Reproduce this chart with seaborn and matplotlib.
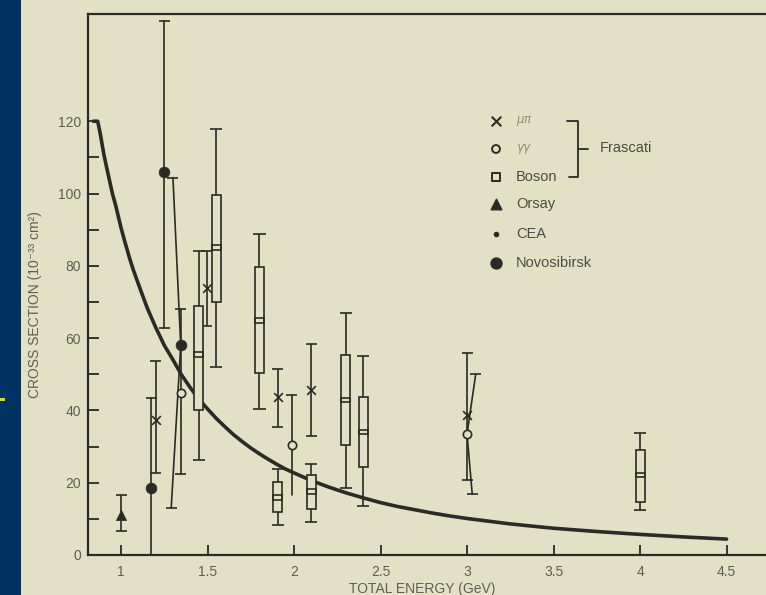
import matplotlib
matplotlib.use("Agg")
import matplotlib.pyplot as plt
from matplotlib.patches import Rectangle
import seaborn as sns
import pandas as pd

# ---------------- data ----------------
curve_E = [0.84, 0.865, 0.88, 0.9, 0.92, 0.95, 0.97, 1.0, 1.02, 1.05, 1.07, 1.1, 1.15,
           1.2, 1.25, 1.3, 1.35, 1.4, 1.45, 1.5, 1.55, 1.6, 1.65, 1.7, 1.75, 1.8, 1.85,
           1.9, 1.95, 2.0, 2.1, 2.2, 2.3, 2.4, 2.5, 2.6, 2.7, 2.8, 2.9, 3.0, 3.25, 3.5,
           3.75, 4.0, 4.25, 4.5]
curve_sigma = [120, 120, 116.5, 111, 106.5, 100, 96.5, 90.5, 87, 82, 79, 75, 68.5,
               63, 58, 54, 49.8, 46.3, 43.1, 40.4, 37.8, 35.5, 33.3, 31.4, 29.6, 28,
               26.5, 25.1, 23.8, 22.7, 20.6, 18.8, 17.2, 15.8, 14.5, 13.4, 12.5, 11.6,
               10.8, 10.1, 8.6, 7.4, 6.5, 5.7, 5.0, 4.4]

# Frascati mu-pi (x)
mupi_E = [1.2, 1.495, 1.905, 2.10, 3.0]
mupi_s = [37.3, 73.8, 43.6, 45.6, 38.7]
mupi_lo = [22.7, 63.4, 35.4, 32.8, 20.7]
mupi_hi = [53.7, 84.0, 51.4, 58.3, 56.0]

# Frascati gamma-gamma (open circles); caps may be offset in energy
gg_E = [1.345, 1.987, 3.0]
gg_s = [44.7, 30.4, 33.5]
gg_lo = [22.4, 16.6, 16.8]
gg_hi = [68.0, 44.3, 50.0]
gg_lo_capE = [1.345, 1.987, 3.03]
gg_hi_capE = [1.345, 1.987, 3.05]
gg_lo_cap = [True, False, True]

# Frascati boson (boxes)
bos_E = [1.45, 1.55, 1.80, 1.905, 2.10, 2.30, 2.40, 4.00]
bos_wlo = [26.3, 52.0, 40.4, 8.4, 9.0, 18.5, 13.6, 12.4]
bos_blo = [40.0, 70.0, 50.3, 11.8, 12.8, 30.4, 24.4, 14.8]
bos_mid = [55.5, 85.0, 64.9, 16.0, 17.5, 42.9, 34.0, 22.1]
bos_bhi = [69.0, 99.6, 79.8, 20.1, 22.0, 55.3, 43.8, 29.0]
bos_whi = [84.0, 117.8, 88.8, 23.8, 25.3, 66.9, 55.0, 33.7]

# Orsay (filled triangle)
ors_E = [1.0]
ors_s = [11.0]
ors_lo = [6.6]
ors_hi = [16.6]

# Novosibirsk (filled circles); caps may be offset in energy
nov_E = [1.175, 1.25, 1.345]
nov_s = [18.5, 106.0, 58.0]
nov_lo = [0.0, 62.9, 13.0]
nov_hi = [43.4, 147.8, 104.4]
nov_lo_capE = [1.175, 1.25, 1.29]
nov_hi_capE = [1.175, 1.25, 1.30]
nov_lo_cap = [False, True, True]

x_ticks = [1, 1.5, 2, 2.5, 3, 3.5, 4, 4.5]
x_ticklabels = ["1", "1.5", "2", "2.5", "3", "3.5", "4", "4.5"]
y_ticks = [0, 20, 40, 60, 80, 100, 120]
y_minor = [10, 30, 50, 70, 90, 110]

legend_labels = ["$\\mu\\pi$", "$\\gamma\\gamma$", "Boson", "Orsay", "CEA", "Novosibirsk"]
group_label = "Frascati"
xlabel = "TOTAL ENERGY (GeV)"
ylabel = "CROSS SECTION (10\u207b\u00b3\u00b3 cm\u00b2)"

# ---------------- style ----------------
sns.set_style("ticks")
plt.rcParams["font.family"] = ["Liberation Sans", "DejaVu Sans"]

INK = "#2b2a24"
BEIGE = "#e3e1c5"
NAVY = "#02325f"
GREY = "#5f5e55"

W, H = 766, 595
fig = plt.figure(figsize=(W / 100, H / 100), dpi=100)
fig.patch.set_facecolor(NAVY)
fig.add_artist(Rectangle((21 / W, 0), 1, 1, transform=fig.transFigure,
                         facecolor=BEIGE, edgecolor="none", zorder=-10))
fig.add_artist(Rectangle((0, 1 - 401 / H), 5 / W, 3 / H, transform=fig.transFigure,
                         facecolor="#e2d24a", edgecolor="none", zorder=-9))

ax_left, ax_right, ax_top, ax_bot = 88, 766, 13.5, 555
ax = fig.add_axes([ax_left / W, 1 - ax_bot / H, (ax_right - ax_left) / W,
                   (ax_bot - ax_top) / H])
ax.set_facecolor(BEIGE)
ax.set_xlim(0.809, 4.728)
ax.set_ylim(0, 149.8)

for side in ["left", "bottom", "top"]:
    ax.spines[side].set_color(INK)
    ax.spines[side].set_linewidth(1.6)
ax.spines["right"].set_visible(False)

ax.set_xticks(x_ticks)
ax.set_xticklabels(x_ticklabels)
ax.set_yticks(y_ticks)
ax.set_yticks(y_minor, minor=True)
ax.tick_params(axis="both", which="both", direction="in", color=INK, width=1.3,
               labelcolor=GREY, labelsize=10)
ax.tick_params(axis="y", which="major", length=8, pad=5)
ax.tick_params(axis="y", which="minor", length=8)
ax.tick_params(axis="x", which="major", length=7, pad=7)
ax.tick_params(top=False, right=False)

LW = 1.2
CAPW = 0.032   # half width of caps (GeV)
BOXW = 0.052   # box width (GeV)

# ---------------- theory curve ----------------
sns.lineplot(x=curve_E, y=curve_sigma, ax=ax, color=INK, lw=2.6,
             estimator=None, sort=False, zorder=3)


def caps(xs, ys, hw=CAPW):
    ax.hlines(ys, [x - hw for x in xs], [x + hw for x in xs], color=INK, lw=LW, zorder=4)


# mu-pi error bars
ax.vlines(mupi_E, mupi_lo, mupi_hi, color=INK, lw=LW, zorder=4)
caps(mupi_E, mupi_lo)
caps(mupi_E, mupi_hi)

# gamma-gamma error bars (possibly slanted to offset caps)
for E, s, lo, hi, cl, ch, hascap in zip(gg_E, gg_s, gg_lo, gg_hi, gg_lo_capE, gg_hi_capE, gg_lo_cap):
    ax.plot([E, cl], [s, lo], color=INK, lw=LW, zorder=4)
    ax.plot([E, ch], [s, hi], color=INK, lw=LW, zorder=4)
    caps([ch], [hi])
    if hascap:
        caps([cl], [lo])

# Novosibirsk error bars
for E, s, lo, hi, cl, ch, hascap in zip(nov_E, nov_s, nov_lo, nov_hi, nov_lo_capE, nov_hi_capE, nov_lo_cap):
    ax.plot([E, cl], [s, lo], color=INK, lw=LW, zorder=4)
    ax.plot([E, ch], [s, hi], color=INK, lw=LW, zorder=4)
    caps([ch], [hi])
    if hascap:
        caps([cl], [lo])

# Orsay error bars
ax.vlines(ors_E, ors_lo, ors_hi, color=INK, lw=LW, zorder=4)
caps(ors_E, ors_lo)
caps(ors_E, ors_hi)

# Boson boxes
ax.vlines(bos_E, bos_wlo, bos_blo, color=INK, lw=LW, zorder=4)
ax.vlines(bos_E, bos_bhi, bos_whi, color=INK, lw=LW, zorder=4)
caps(bos_E, bos_wlo, 0.035)
caps(bos_E, bos_whi, 0.035)
ax.bar(bos_E, [h - l for h, l in zip(bos_bhi, bos_blo)], bottom=bos_blo, width=BOXW,
       facecolor=BEIGE, edgecolor=INK, linewidth=LW, zorder=4)
ax.bar(bos_E, [1.3] * len(bos_E), bottom=[m - 0.65 for m in bos_mid], width=BOXW,
       facecolor="none", edgecolor=INK, linewidth=LW, zorder=5)

# markers
pts = pd.DataFrame({
    "E": mupi_E + gg_E + ors_E + nov_E,
    "sigma": mupi_s + gg_s + ors_s + nov_s,
    "group": ["mupi"] * len(mupi_E) + ["gg"] * len(gg_E) + ["ors"] * len(ors_E) + ["nov"] * len(nov_E),
})
sns.scatterplot(data=pts[pts.group == "mupi"], x="E", y="sigma", marker="x", s=40,
                color=INK, linewidth=1.2, ax=ax, zorder=6, legend=False)
sns.scatterplot(data=pts[pts.group == "gg"], x="E", y="sigma", marker="o", s=36,
                facecolor=BEIGE, edgecolor=INK, linewidth=1.2, ax=ax, zorder=6, legend=False)
sns.scatterplot(data=pts[pts.group == "ors"], x="E", y="sigma", marker="^", s=55,
                color=INK, edgecolor=INK, linewidth=0.5, ax=ax, zorder=6, legend=False)
sns.scatterplot(data=pts[pts.group == "nov"], x="E", y="sigma", marker="o", s=60,
                color=INK, edgecolor=INK, linewidth=0.5, ax=ax, zorder=6, legend=False)
ax.set_xlabel("")
ax.set_ylabel("")


# ---------------- legend (hand drawn) ----------------
def af(px, py):
    return ((px - ax_left) / (ax_right - ax_left), (ax_bot - py) / (ax_bot - ax_top))


rows_py = [120.5, 149, 177, 204, 234, 263]
mk_px, lab_px = 496, 516
mk_styles = [
    dict(marker="x", s=48, c=INK, linewidths=1.5),
    dict(marker="o", s=32, facecolors="none", edgecolors=INK, linewidths=1.4),
    dict(marker="s", s=26, facecolors="none", edgecolors=INK, linewidths=1.4),
    dict(marker="^", s=58, c=INK),
    dict(marker="o", s=9, c=INK),
    dict(marker="o", s=62, c=INK),
]
for lab, py, st in zip(legend_labels, rows_py, mk_styles):
    x, y = af(mk_px, py)
    ax.scatter([x], [y], transform=ax.transAxes, zorder=7, clip_on=False, **st)
    xt, yt = af(lab_px, py)
    if lab.startswith("$"):
        ax.text(xt, yt, lab, transform=ax.transAxes, fontsize=8.5, color="#8b8a7f",
                va="center", ha="left")
    else:
        ax.text(xt, yt, lab, transform=ax.transAxes, fontsize=10.5, color="#4c4b43",
                va="center", ha="left")

br = [af(567, 120.5), af(578, 120.5), af(578, 177), af(569, 177)]
ax.plot([p[0] for p in br], [p[1] for p in br], transform=ax.transAxes, color=INK, lw=1.3)
mid = [af(578, 149), af(588, 149)]
ax.plot([p[0] for p in mid], [p[1] for p in mid], transform=ax.transAxes, color=INK, lw=1.3)
xt, yt = af(600, 148)
ax.text(xt, yt, group_label, transform=ax.transAxes, fontsize=10.5, color="#4c4b43",
        va="center", ha="left")

# axis titles
fig.text(422 / W, 1 - 589 / H, xlabel, ha="center", va="center", fontsize=10, color=GREY)
fig.text(35 / W, 1 - 305 / H, ylabel, ha="center", va="center", rotation=90,
         fontsize=10, color=GREY)

fig.savefig("out.png", dpi=100, facecolor=fig.get_facecolor())
